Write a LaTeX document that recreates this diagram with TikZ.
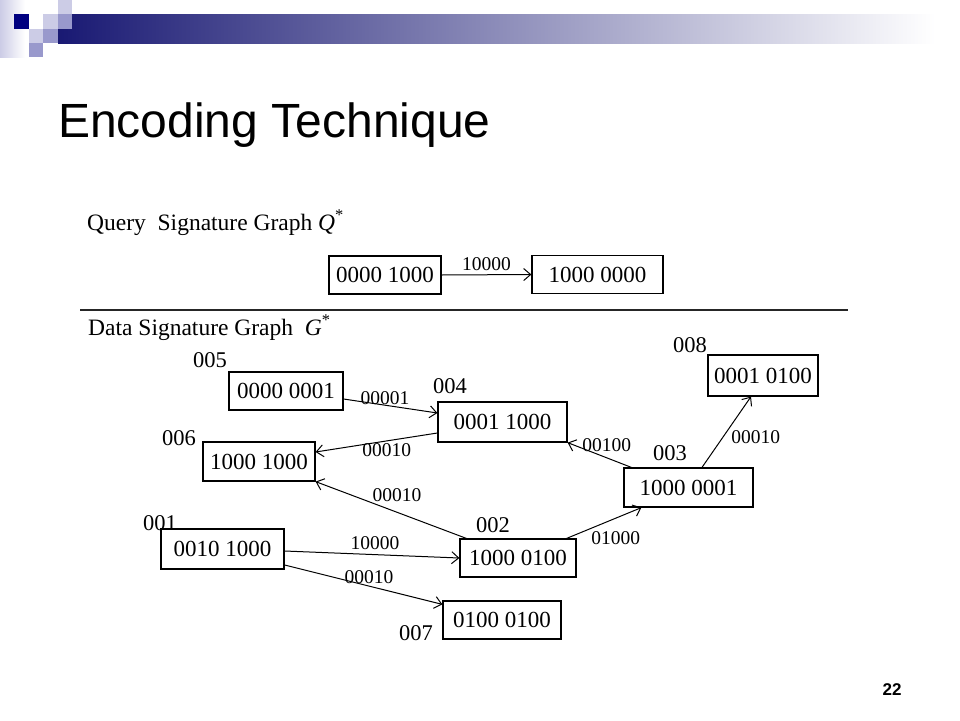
\documentclass[tikz,border=0pt]{standalone}
\usepackage{fontspec}
\setmainfont{Liberation Serif}
\newfontfamily\headfont{Liberation Sans}
\usetikzlibrary{arrows.meta}
\newcommand\sigfont{\fontsize{23}{27}\selectfont}
\newcommand\idfont{\fontsize{22.5}{27}\selectfont}
\newcommand\edgefont{\fontsize{19.5}{23}\selectfont}
\newcommand\graphfont{\fontsize{23.5}{28}\selectfont}
\definecolor{navy}{RGB}{0,0,128}
\definecolor{lav}{RGB}{204,204,230}
\definecolor{mlav}{RGB}{153,153,204}
\begin{document}
\begin{tikzpicture}[x=1pt,y=-1pt,
sig/.style={draw, line width=1.2pt, inner sep=0pt, minimum height=38pt, font=\sigfont},
sid/.style={inner sep=0pt, font=\idfont},
elbl/.style={inner sep=0pt, font=\edgefont},
arc/.style={line width=1pt, -{Straight Barb[length=7pt,width=12pt]}}]
\useasboundingbox (0,0) rectangle (960,720);
\shade[left color=lav, right color=white] (0,0) rectangle (25,57);
\shade[left color={rgb,255:red,25;green,25;blue,115}, middle color={rgb,255:red,165;green,165;blue,190}, right color=white] (58,14) rectangle (935,43);
\fill[navy] (14,14) rectangle (29,29);
\fill[lav] (43,14) rectangle (58,29);
\fill[lav] (29,29) rectangle (43,43);
\fill[lav] (58,0) rectangle (72,14);
\fill[mlav] (58,14) rectangle (72,29);
\fill[mlav] (43,29) rectangle (58,43);
\fill[mlav] (29,43) rectangle (43,57);
\node[anchor=base west, inner sep=0pt, font=\headfont\fontsize{48}{58}\selectfont] (title) at (58,137){Encoding Technique};
\node[anchor=base, inner sep=0pt, font=\headfont\bfseries\fontsize{17}{20}\selectfont] (page) at (892,695){22};
\node[anchor=base west, inner sep=0pt, font=\graphfont] (qhead) at (87,230){Query~~Signature Graph \textit{Q}\textsuperscript{*}};
\node[anchor=base west, inner sep=0pt, font=\graphfont] (dhead) at (88,335){Data Signature Graph~~\textit{G}\textsuperscript{*}};
\draw[line width=1.5pt, black!85] (80,310) -- (848,310);
\node[sig, minimum width=112pt] (q1) at (385,275){0000 1000};
\node[sig, minimum width=131pt] (q2) at (597.5,274.5){1000 0000};
\node[sig, minimum width=114pt] (s005) at (286,391){0000 0001};
\node[sig, minimum width=129pt, minimum height=40pt] (s004) at (502.5,422){0001 1000};
\node[sig, minimum width=112pt, minimum height=39pt] (s006) at (259,461.5){1000 1000};
\node[sig, minimum width=110pt, minimum height=41pt] (s008) at (763,375.5){0001 0100};
\node[sig, minimum width=129pt, minimum height=39pt] (s003) at (688.5,487.5){1000 0001};
\node[sig, minimum width=123pt, minimum height=40pt] (s001) at (222.5,549){0010 1000};
\node[sig, minimum width=116pt] (s002) at (518,558){1000 0100};
\node[sig, minimum width=118pt] (s007) at (502,620){0100 0100};
\node[sid] (l005) at (210,360){005};
\node[sid] (l004) at (450,386){004};
\node[sid] (l006) at (179,438){006};
\node[sid] (l008) at (690,345){008};
\node[sid] (l003) at (670,453){003};
\node[sid] (l001) at (160,523){001};
\node[sid] (l002) at (493,525){002};
\node[sid] (l007) at (416,633){007};
\draw[arc](q1.east) -- (q2.west) node[elbl, pos=0.5, yshift=11pt]{10000};
\draw[arc]([yshift=-8pt]s005.east) -- ([yshift=9pt]s004.west) node[elbl, pos=0.442, yshift=7pt]{00001};
\draw[arc]([yshift=-11pt]s004.west) -- ([yshift=9.5pt]s006.east) node[elbl, pos=0.415, yshift=-9pt]{00010};
\draw[arc]([xshift=8pt]s003.north west) -- (s004.south east) node[elbl, pos=0.385, yshift=13pt]{00100};
\draw[arc]([xshift=7pt]s002.north west) -- (s006.south east) node[elbl, pos=0.46, yshift=17pt]{00010};
\draw[arc]([yshift=-2pt]s001.east) -- (s002.west) node[elbl, pos=0.517, yshift=12pt]{10000};
\draw[arc]([yshift=-16pt]s001.east) -- ([yshift=-4pt]s007.north west) node[elbl, pos=0.535, yshift=9pt]{00010};
\draw[arc]([xshift=-10pt]s002.north east) -- ([xshift=18pt]s003.south west) node[elbl, pos=0.658, yshift=-20pt]{01000};
\draw[arc]([xshift=13.5pt]s003.north) -- ([xshift=-12pt]s008.south) node[elbl, pos=0.424, xshift=33pt]{00010};
\end{tikzpicture}
\end{document}
